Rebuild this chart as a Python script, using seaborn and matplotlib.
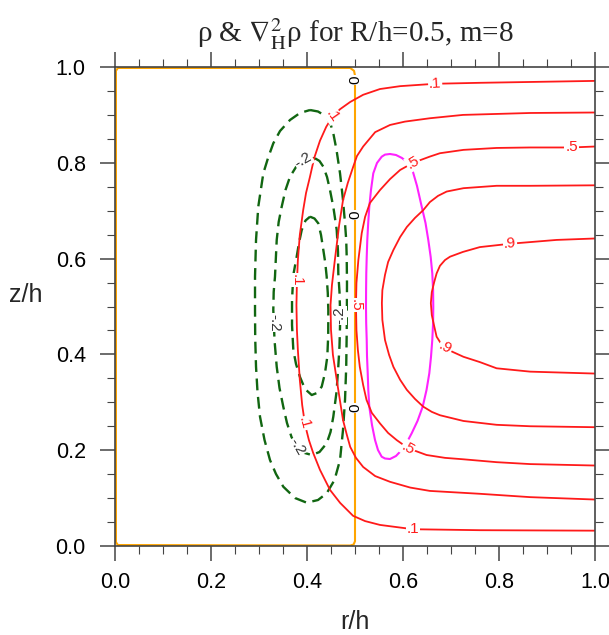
import matplotlib
matplotlib.use("Agg")
import matplotlib.pyplot as plt
import seaborn as sns
import pandas as pd
from matplotlib.ticker import MultipleLocator

# ---------------- data ----------------
# density contours rho = .1 .3 .5 .7 .9  (r/h, z/h)
rho_levels = [0.1, 0.3, 0.5, 0.7, 0.9]
rho01_r = [1.000, 0.760, 0.667, 0.594, 0.552, 0.517, 0.490, 0.469, 0.454, 0.440, 0.427, 0.415,
           0.406, 0.398, 0.392, 0.385, 0.381, 0.379, 0.378, 0.379, 0.381, 0.385, 0.390, 0.396,
           0.404, 0.413, 0.427, 0.448, 0.469, 0.496, 0.521, 0.552, 0.621, 0.760, 1.000]
rho01_z = [0.971, 0.967, 0.965, 0.960, 0.954, 0.942, 0.927, 0.912, 0.898, 0.875, 0.846, 0.810,
           0.770, 0.737, 0.701, 0.649, 0.597, 0.551, 0.503, 0.451, 0.409, 0.347, 0.294, 0.253,
           0.221, 0.194, 0.159, 0.117, 0.090, 0.063, 0.052, 0.044, 0.035, 0.033, 0.032]
rho03_r = [1.000, 0.865, 0.725, 0.656, 0.604, 0.573, 0.542, 0.517, 0.504, 0.496, 0.485, 0.475,
           0.467, 0.458, 0.452, 0.449, 0.450, 0.454, 0.463, 0.475, 0.483, 0.490, 0.502, 0.517,
           0.542, 0.573, 0.615, 0.656, 0.760, 0.865, 1.000]
rho03_z = [0.905, 0.904, 0.900, 0.893, 0.886, 0.879, 0.864, 0.834, 0.814, 0.791, 0.758, 0.722,
           0.670, 0.597, 0.545, 0.503, 0.451, 0.399, 0.340, 0.263, 0.232, 0.207, 0.184, 0.165,
           0.146, 0.134, 0.122, 0.115, 0.109, 0.102, 0.097]
rho05_r = [1.000, 0.951, 0.865, 0.795, 0.726, 0.677, 0.656, 0.621, 0.594, 0.573, 0.552, 0.531,
           0.521, 0.514, 0.507, 0.503, 0.502, 0.503, 0.506, 0.510, 0.517, 0.524, 0.535, 0.552,
           0.569, 0.587, 0.611, 0.649, 0.6875, 0.726, 0.795, 0.865, 1.000]
rho05_z = [0.834, 0.832, 0.832, 0.831, 0.827, 0.820, 0.813, 0.800, 0.785, 0.766, 0.743, 0.716,
           0.687, 0.653, 0.597, 0.549, 0.503, 0.451, 0.409, 0.374, 0.336, 0.305, 0.278, 0.256,
           0.236, 0.221, 0.204, 0.190, 0.184, 0.181, 0.175, 0.171, 0.168]
rho07_r = [1.000, 0.865, 0.795, 0.726, 0.691, 0.673, 0.656, 0.642, 0.625, 0.608, 0.594, 0.580,
           0.569, 0.5625, 0.557, 0.556, 0.557, 0.5625, 0.571, 0.580, 0.594, 0.608, 0.625, 0.642,
           0.660, 0.677, 0.726, 0.795, 0.865, 1.000]
rho07_z = [0.753, 0.752, 0.752, 0.747, 0.740, 0.731, 0.718, 0.701, 0.685, 0.666, 0.645, 0.618,
           0.593, 0.566, 0.534, 0.507, 0.472, 0.430, 0.399, 0.374, 0.347, 0.326, 0.307, 0.291,
           0.280, 0.273, 0.261, 0.253, 0.250, 0.248]
rho09_r = [1.000, 0.920, 0.823, 0.760, 0.725, 0.698, 0.6875, 0.677, 0.670, 0.665, 0.660, 0.658,
           0.660, 0.665, 0.670, 0.677, 0.6875, 0.704, 0.726, 0.760, 0.795, 0.865, 1.000]
rho09_z = [0.642, 0.639, 0.631, 0.624, 0.614, 0.604, 0.597, 0.585, 0.569, 0.551, 0.530, 0.507,
           0.482, 0.459, 0.437, 0.426, 0.413, 0.405, 0.395, 0.384, 0.371, 0.364, 0.360]

# Laplacian contours: negative (-.1 outer, -.2 middle, -.3 inner), zero, positive
lap_neg_levels = [-0.1, -0.2, -0.3]
lapm01_r = [0.4063, 0.4229, 0.4410, 0.4490, 0.4548, 0.4615, 0.4688, 0.4746, 0.4792, 0.4817,
            0.4827, 0.4833, 0.4831, 0.4827, 0.4817, 0.4792, 0.4750, 0.4688, 0.4573, 0.4410,
            0.4229, 0.3994, 0.3750, 0.3506, 0.3354, 0.3229, 0.3115, 0.3021, 0.2969, 0.2938,
            0.2921, 0.2917, 0.2917, 0.2938, 0.2985, 0.3090, 0.3188, 0.3298, 0.3438, 0.3646,
            0.3854, 0.4063]
lapm01_z = [0.9102, 0.9071, 0.8962, 0.8810, 0.8616, 0.8267, 0.7781, 0.7265, 0.6737, 0.6388,
            0.6040, 0.5491, 0.4927, 0.4441, 0.3737, 0.3048, 0.2422, 0.1795, 0.1378, 0.1100,
            0.0960, 0.0904, 0.1002, 0.1238, 0.1503, 0.1795, 0.2213, 0.2699, 0.3215, 0.3743,
            0.4342, 0.4927, 0.5622, 0.6388, 0.7084, 0.7781, 0.8100, 0.8407, 0.8664, 0.8894,
            0.9040, 0.9102]
lapm02_r = [0.4167, 0.4260, 0.4340, 0.4417, 0.4479, 0.4552, 0.4619, 0.4646, 0.4652, 0.4677,
            0.4688, 0.4688, 0.4677, 0.4652, 0.4615, 0.4548, 0.4490, 0.4410, 0.4260, 0.4098,
            0.3917, 0.3785, 0.3677, 0.3583, 0.3506, 0.3427, 0.3369, 0.3323, 0.3298, 0.3306,
            0.3333, 0.3369, 0.3410, 0.3473, 0.3552, 0.3646, 0.3771, 0.3923, 0.4042, 0.4167]
lapm02_z = [0.8094, 0.8038, 0.7919, 0.7704, 0.7432, 0.7056, 0.6597, 0.6138, 0.5693, 0.5303,
            0.4927, 0.4578, 0.4175, 0.3743, 0.3215, 0.2699, 0.2380, 0.2144, 0.1962, 0.1900,
            0.1952, 0.2073, 0.2276, 0.2568, 0.2908, 0.3299, 0.3743, 0.4301, 0.4927, 0.5303,
            0.5622, 0.6388, 0.6764, 0.7084, 0.7432, 0.7710, 0.7912, 0.8058, 0.8100, 0.8094]
lapm03_r = [0.4063, 0.4156, 0.4235, 0.4292, 0.4340, 0.4381, 0.4410, 0.4433, 0.4444, 0.4442,
            0.4423, 0.4375, 0.4306, 0.4208, 0.4098, 0.3958, 0.3854, 0.3771, 0.3715, 0.3688,
            0.3688, 0.3715, 0.3785, 0.3833, 0.3890, 0.3969, 0.4063]
lapm03_z = [0.6875, 0.6837, 0.6737, 0.6493, 0.6180, 0.5908, 0.5622, 0.5282, 0.4927, 0.4405,
            0.3952, 0.3612, 0.3326, 0.3194, 0.3152, 0.3278, 0.3528, 0.3800, 0.4092, 0.4614,
            0.5136, 0.5658, 0.6040, 0.6326, 0.6597, 0.6795, 0.6875]
lap0_r = [0.490, 0.498, 0.500, 0.500, 0.497, 0.490, 0.006, 0.002, 0.002, 0.006, 0.490]
lap0_z = [0.998, 0.992, 0.982, 0.010, 0.003, 0.001, 0.002, 0.008, 0.992, 0.998, 0.998]
lappos_r = [0.5729, 0.5854, 0.5979, 0.6104, 0.6208, 0.6292, 0.6390, 0.6469, 0.6527, 0.6577,
            0.6610, 0.6627, 0.6631, 0.6627, 0.6610, 0.6583, 0.6548, 0.6490, 0.6410, 0.6302,
            0.6181, 0.6073, 0.5973, 0.5854, 0.5729, 0.5625, 0.5556, 0.5479, 0.5417, 0.5354,
            0.5298, 0.5277, 0.5265, 0.5250, 0.5244, 0.5233, 0.5229, 0.5231, 0.5235, 0.5244,
            0.5256, 0.5275, 0.5298, 0.5333, 0.5381, 0.5458, 0.5556, 0.5625, 0.5729]
lappos_z = [0.8184, 0.8163, 0.8100, 0.7996, 0.7808, 0.7516, 0.7084, 0.6743, 0.6388, 0.6033,
            0.5693, 0.5344, 0.4996, 0.4656, 0.4301, 0.3946, 0.3605, 0.3257, 0.2908, 0.2610,
            0.2353, 0.2150, 0.2004, 0.1879, 0.1816, 0.1827, 0.1864, 0.2004, 0.2213, 0.2526,
            0.2908, 0.3257, 0.3605, 0.3967, 0.4301, 0.4656, 0.4996, 0.5344, 0.5693, 0.6033,
            0.6388, 0.6743, 0.7084, 0.7432, 0.7781, 0.7996, 0.8127, 0.8171, 0.8184]

x_ticks = [0.0, 0.2, 0.4, 0.6, 0.8, 1.0]
y_ticks = [0.0, 0.2, 0.4, 0.6, 0.8, 1.0]

# ---------------- figure ----------------
sns.set_style("ticks")
plt.rcParams["font.family"] = ["Liberation Sans", "DejaVu Sans"]
plt.rcParams["mathtext.fontset"] = "stix"

fig = plt.figure(figsize=(6.09, 6.35), dpi=100)
ax = fig.add_axes([115 / 609, 1 - 546 / 635, 480 / 609, 479 / 635])

RED = "#ff1a1a"
GREEN = "#116611"
MAG = "#ff22ff"
ORANGE = "#ffa500"


def curve(r, z, **kw):
    df = pd.DataFrame({"r": r, "z": z})
    sns.lineplot(data=df, x="r", y="z", sort=False, estimator=None, ax=ax, **kw)


curve(lap0_r, lap0_z, color=ORANGE, linewidth=1.5)
for r, z in [(lapm01_r, lapm01_z), (lapm02_r, lapm02_z), (lapm03_r, lapm03_z)]:
    curve(r, z, color=GREEN, linewidth=1.7, linestyle=(0, (5, 2.8)))
curve(lappos_r, lappos_z, color=MAG, linewidth=1.5)
for r, z in [(rho01_r, rho01_z), (rho03_r, rho03_z), (rho05_r, rho05_z),
             (rho07_r, rho07_z), (rho09_r, rho09_z)]:
    curve(r, z, color=RED, linewidth=1.3)

# contour labels
bb = dict(facecolor="white", edgecolor="none", pad=0.6)


def lab(x, y, s, c, rot=0):
    ax.text(x, y, s, color=c, fontsize=11, rotation=rot, ha="center", va="center",
            bbox=bb, rotation_mode="anchor", zorder=5)


lab(0.667, 0.965, ".1", RED, 3)
lab(0.454, 0.898, ".1", RED, -55)
lab(0.379, 0.555, ".1", RED, -90)
lab(0.394, 0.256, ".1", RED, -75)
lab(0.621, 0.035, ".1", RED, 0)
lab(0.951, 0.832, ".5", RED, 0)
lab(0.621, 0.800, ".5", RED, 30)
lab(0.502, 0.503, ".5", RED, -90)
lab(0.611, 0.204, ".5", RED, -30)
lab(0.823, 0.631, ".9", RED, 5)
lab(0.6875, 0.413, ".9", RED, -30)
lab(0.392, 0.806, "-.2", "#333333", 30)
lab(0.331, 0.466, "-.2", "#333333", -90)
lab(0.468, 0.482, "-.2", "#333333", 90)
lab(0.379, 0.207, "-.2", "#333333", -60)
lab(0.5, 0.973, "0", "black", 90)
lab(0.5, 0.691, "0", "black", 90)
lab(0.5, 0.288, "0", "black", 90)

ax.set_xlim(0, 1)
ax.set_ylim(0, 1)
ax.set_xticks(x_ticks)
ax.set_yticks(y_ticks)
ax.set_xticklabels([f"{v:.1f}" for v in x_ticks])
ax.set_yticklabels([f"{v:.1f}" for v in y_ticks])
ax.xaxis.set_minor_locator(MultipleLocator(0.05))
ax.yaxis.set_minor_locator(MultipleLocator(0.05))
for s in ax.spines.values():
    s.set_visible(True)
    s.set_linewidth(1.2)
    s.set_color("#444444")
ax.tick_params(which="both", direction="out", top=True, right=True, colors="#444444",
               labelcolor="black")
ax.tick_params(which="major", length=11, width=1.1, labelsize=15.5, pad=8)
ax.tick_params(axis="y", which="major", pad=10)
ax.tick_params(which="minor", length=6, width=0.8)

ax.set_xlabel("r/h", fontsize=18, labelpad=12)
ax.set_ylabel("z/h", fontsize=18, rotation=0, labelpad=0)
ax.yaxis.set_label_coords(-0.185, 0.5)

fig.text(355 / 609, 1 - 42 / 635, r"ρ & $\nabla^{2}_{\mathrm{H}}$ρ for R/h=0.5, m=8",
         ha="center", va="baseline", fontsize=21, family=["Liberation Serif", "DejaVu Serif"])

fig.savefig("out.png", dpi=100)
